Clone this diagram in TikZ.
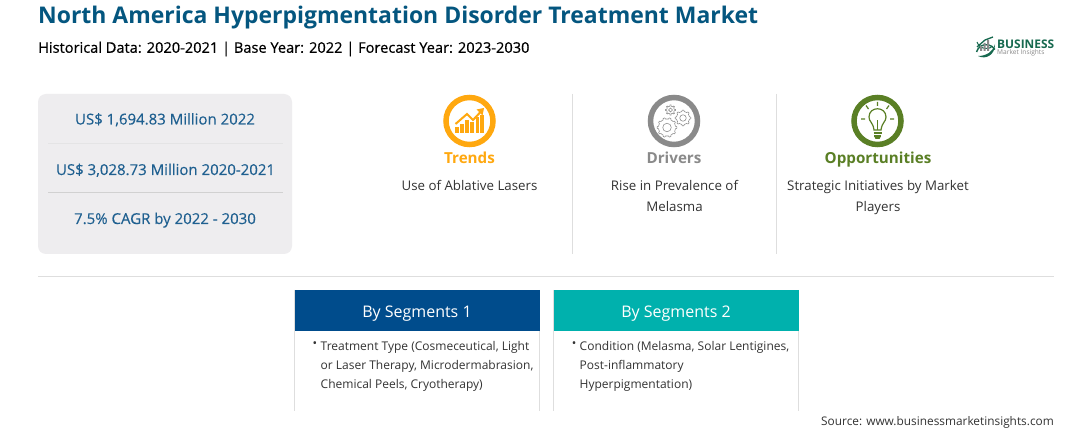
\documentclass[tikz,border=0pt]{standalone}
\usepackage{fontspec}
\setmainfont{Open Sans}
\newfontfamily\semib[FakeBold=0.6]{Open Sans}
\newfontfamily\medf[FakeBold=0.3]{Open Sans}
\usetikzlibrary{arrows.meta}
\definecolor{titleblue}{HTML}{04567F}
\definecolor{statblue}{HTML}{1F6090}
\definecolor{panel}{HTML}{EEEDEF}
\definecolor{rulegray}{HTML}{DEDEDE}
\definecolor{trendc}{HTML}{FFA80F}
\definecolor{drivec}{HTML}{8A8A8A}
\definecolor{oppc}{HTML}{5A7F25}
\definecolor{segblue}{HTML}{004C8C}
\definecolor{segteal}{HTML}{00B1AD}
\definecolor{bodytxt}{HTML}{333333}
\definecolor{logogreen}{HTML}{17694F}
\newcommand{\fs}[1]{\fontsize{#1}{#1}\selectfont}
\newcommand{\gearshape}[4]{% cx cy r teeth
  \draw[drivec,line width=.55pt] plot[samples=#4*8+1,domain=0:360]
    ({#1+(#3+1.3*(cos(#4*\x)>0))*cos(\x)},{#2+(#3+1.3*(cos(#4*\x)>0))*sin(\x)}) -- cycle;
  \draw[drivec,line width=.55pt] (#1,#2) circle[radius=#3*.5];
}
\tikzset{
  x=1pt,y=-1pt,
  stat/.style={text=statblue,font=\fs{15}\medf,anchor=base,inner sep=0},
  kpi/.style={font=\fs{15.2}\bfseries,anchor=base,inner sep=0},
  small/.style={text=bodytxt,font=\fs{13.3},anchor=base,inner sep=0,align=center},
  seghead/.style={text=white,font=\fs{16},anchor=base,inner sep=0},
  segbody/.style={text=bodytxt,font=\fontsize{12}{19}\selectfont,anchor=north west,inner sep=0,align=left},
  ringicon/.style={line width=5.5pt},
  thinrule/.style={rulegray,line width=1pt}
}
\begin{document}
\begin{tikzpicture}
\useasboundingbox (0,0) rectangle (1092,430);
\fill[white] (0,0) rectangle (1092,430);
% header
\node[anchor=west,inner sep=0,text=titleblue,font=\fs{22.95}\bfseries] (title) at (38,18) {North America Hyperpigmentation Disorder Treatment Market};
\node[anchor=west,inner sep=0,text=black,font=\fs{14.6}\semib] (sub) at (38,49) {Historical Data: 2020-2021 | Base Year: 2022 | Forecast Year: 2023-2030};
% logo
\draw[logogreen,line width=1.4pt] (976.5,52) arc[start angle=195,end angle=330,radius=10];
\draw[logogreen,line width=1pt] (977,42) arc[start angle=160,end angle=60,radius=10];
\fill[drivec] (980,51) rectangle +(2,-5) (983.5,51) rectangle +(2,-8) (987,51) rectangle +(2,-11);
\draw[logogreen,line width=1.3pt] (977,47) -- (985,40) -- (993,37);
\fill[logogreen] (978,56) .. controls (986,60) and (995,55) .. (995,44) .. controls (993,52) and (986,56) .. (978,56) -- cycle;
\node[anchor=west,inner sep=0,text=logogreen,font=\fs{11.9}\bfseries] (logo1) at (997,44.5) {BUSINESS};
\node[anchor=west,inner sep=0,text=drivec,font=\fs{6.6}] (logo2) at (997,53) {Market Insights};
% KPI panel
\fill[panel,rounded corners=8pt] (38,94) rectangle (292,254);
\node[stat] (s1) at (165,124.5) {US\$ 1,694.83 Million 2022};
\draw[line width=.8pt,color=panel!96!black] (48,143.5) -- (283,143.5);
\node[stat] (s2) at (165.5,175) {US\$ 3,028.73 Million 2020-2021};
\draw[line width=.8pt,color=black!18] (48,192.5) -- (283,192.5);
\node[stat] (s3) at (165,224) {7.5\% CAGR by 2022 - 2030};
% separators
\draw[thinrule] (572,94) -- (572,254);
\draw[thinrule] (776,94) -- (776,254);
\draw[thinrule] (38,276.5) -- (1054,276.5);
% trends
\draw[trendc,ringicon] (469.5,121) circle[radius=23.5];
\foreach \bx/\bt in {457/127,462/124,467/120,472/122,477.5/117,482/115}{
  \fill[trendc] (\bx-1.6,133) rectangle (\bx+1.6,\bt);}
\draw[trendc,line width=2pt] (455.5,124) -- (467,114) -- (473,120) -- (481,111.5);
\fill[trendc] (484,108) -- (476.5,109.5) -- (482.5,115.5) -- cycle;
\node[kpi,text=trendc] (t1) at (469.5,163.5) {Trends};
\node[small] (t2) at (469.5,191) {Use of Ablative Lasers};
% drivers
\draw[drivec,ringicon] (674,121) circle[radius=23.5];
\gearshape{670.5}{110}{3.8}{8}
\gearshape{683}{118}{6.5}{8}
\gearshape{667}{127.5}{8.5}{10}
\node[kpi,text=drivec] (d1) at (674,163.5) {Drivers};
\node[small] (d2) at (674.5,191) {Rise in Prevalence of};
\node[small] (d3) at (674.5,212) {Melasma};
% opportunities
\draw[oppc,ringicon] (877.5,121) circle[radius=23.5];
\draw[oppc,line width=1.2pt] (874,130) .. controls (873,122) and (869,122) .. (869,117) .. controls (869,106) and (886,106) .. (886,117) .. controls (886,122) and (882,122) .. (881,130) -- cycle;
\draw[oppc,line width=1.2pt] (877.5,130) -- (877.5,120);
\draw[oppc,line width=1.2pt] (873.5,133) -- (881.5,133) (874,136) -- (881,136);
\fill[oppc] (874.5,137) -- (880.5,137) -- (879.5,139) -- (875.5,139) -- cycle;
\draw[oppc,line width=1.2pt] (877.5,102) -- (877.5,106) (866,105.5) -- (868.5,109) (889,105.5) -- (886.5,109) (861,119) -- (865,119) (890,119) -- (894,119);
\node[kpi,text=oppc] (o1) at (878,163.5) {Opportunities};
\node[small] (o2) at (878,191) {Strategic Initiatives by Market};
\node[small] (o3) at (878,212) {Players};
% segments
\draw[rulegray,line width=.8pt] (294.5,290) -- (294.5,411) (539.5,290) -- (539.5,411);
\draw[rulegray,line width=.8pt] (553.5,290) -- (553.5,411) (798.5,290) -- (798.5,411);
\fill[segblue] (294.5,290) rectangle (539.5,331);
\fill[segteal] (553.5,290) rectangle (798.5,331);
\node[seghead] (h1) at (417,317.5) {By Segments 1};
\node[seghead] (h2) at (676,317.5) {By Segments 2};
\node[inner sep=0,text=bodytxt,font=\fs{12}] (b1) at (315,345) {•};
\node[segbody] (c1) at (320.5,341) {Treatment Type (Cosmeceutical, Light\\or Laser Therapy, Microdermabrasion,\\Chemical Peels, Cryotherapy)};
\node[inner sep=0,text=bodytxt,font=\fs{12}] (b2) at (574,345) {•};
\node[segbody] (c2) at (579.5,341) {Condition (Melasma, Solar Lentigines,\\Post-inflammatory\\Hyperpigmentation)};
\node[anchor=east,inner sep=0,text=bodytxt,font=\fs{11.85}] (src) at (1054,422.5) {Source: www.businessmarketinsights.com};
\end{tikzpicture}
\end{document}
